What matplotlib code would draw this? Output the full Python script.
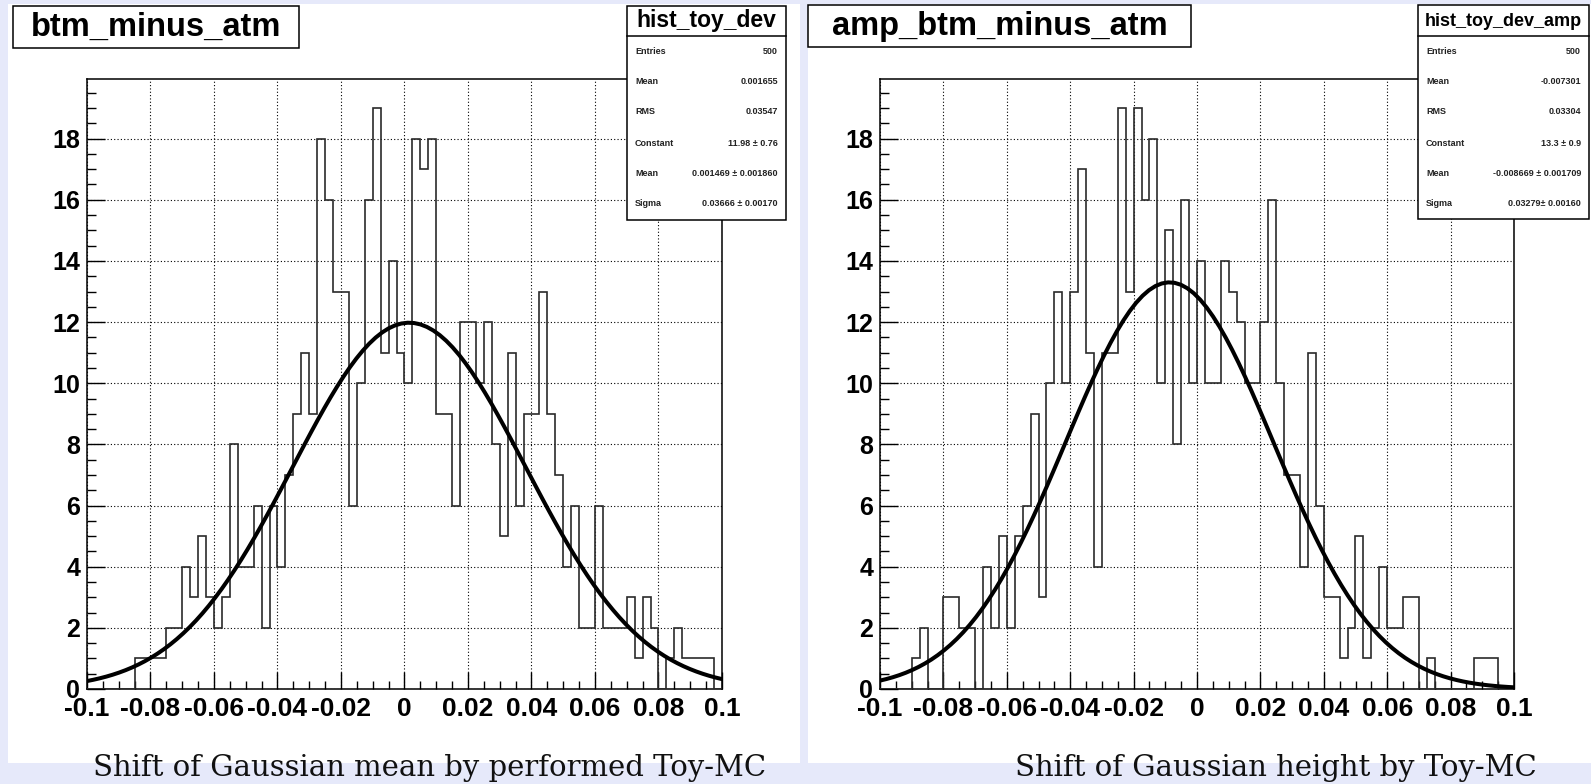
import numpy as np
import matplotlib
matplotlib.use('Agg')
import matplotlib.pyplot as plt
from matplotlib.patches import Rectangle

# histogram binning (80 bins between -0.1 and 0.1)
x_lo, x_hi, n_bins = -0.1, 0.1, 80

# bin contents
counts_mean = [0, 0, 0, 0, 0, 0, 1, 1, 1, 1,
               2, 2, 4, 3, 5, 3, 2, 3, 8, 4,
               4, 6, 2, 6, 4, 7, 9, 11, 9, 18,
               16, 13, 13, 6, 10, 16, 19, 11, 14, 11,
               10, 18, 17, 18, 9, 9, 6, 12, 12, 10,
               12, 8, 5, 11, 6, 9, 9, 13, 9, 7,
               4, 6, 2, 2, 6, 2, 2, 2, 3, 1,
               3, 2, 0, 1, 2, 1, 1, 1, 1, 0]
counts_amp = [0, 0, 0, 0, 1, 2, 0, 0, 3, 3,
              2, 2, 0, 4, 2, 5, 2, 5, 6, 9,
              3, 10, 13, 10, 13, 17, 11, 4, 11, 11,
              19, 13, 19, 16, 18, 10, 15, 8, 16, 10,
              14, 10, 10, 14, 13, 12, 10, 10, 12, 16,
              10, 7, 7, 4, 11, 6, 3, 3, 1, 2,
              5, 1, 2, 4, 2, 2, 3, 3, 0, 1,
              0, 0, 0, 0, 0, 1, 1, 1, 0, 0]

# gaussian fit parameters (constant, mean, sigma)
fit_mean = (11.98, 0.001469, 0.03666)
fit_amp = (13.3, -0.008669, 0.03279)

titles = ["btm_minus_atm", "amp_btm_minus_atm"]
box_titles = ["hist_toy_dev", "hist_toy_dev_amp"]
stat_names = ["Entries", "Mean", "RMS", "Constant", "Mean", "Sigma"]
stats_mean = ["500", "0.001655", "0.03547", "11.98 \u00b1 0.76",
              "0.001469 \u00b1 0.001860", "0.03666 \u00b1 0.00170"]
stats_amp = ["500", "-0.007301", "0.03304", "13.3 \u00b1 0.9",
             "-0.008669 \u00b1 0.001709", "0.03279\u00b1 0.00160"]
captions = ["Shift of Gaussian mean by performed Toy-MC",
            "Shift of Gaussian height by Toy-MC"]

xticks = [-0.1, -0.08, -0.06, -0.04, -0.02, 0, 0.02, 0.04, 0.06, 0.08, 0.1]
xtick_labels = ["-0.1", "-0.08", "-0.06", "-0.04", "-0.02", "0",
                "0.02", "0.04", "0.06", "0.08", "0.1"]
yticks = [0, 2, 4, 6, 8, 10, 12, 14, 16, 18]

W, H = 1591, 784
BG = '#e6e9fa'
SANS = ['Liberation Sans', 'DejaVu Sans']

fig = plt.figure(figsize=(W / 100, H / 100), dpi=100, facecolor=BG)


def fx(x):
    return x / W


def fy(y):
    return 1 - y / H


def rect(x0, y0, x1, y1, **kw):
    fig.patches.append(Rectangle((fx(x0), fy(y1)), fx(x1) - fx(x0), fy(y0) - fy(y1),
                                 transform=fig.transFigure, **kw))


def panel(pad, axbox, counts, fit, title, tbox, box_title, tsize, sbox, stats, caption, cap_x):
    # white pad behind everything
    rect(pad[0], 4, pad[1], 763, facecolor='white', edgecolor='none', zorder=-1)

    ax_x0, ax_x1, ax_top, ax_bot = axbox
    ax = fig.add_axes([fx(ax_x0), fy(ax_bot), fx(ax_x1) - fx(ax_x0), fy(ax_top) - fy(ax_bot)])
    ax.set_zorder(1)
    edges = np.linspace(x_lo, x_hi, n_bins + 1)
    ax.stairs(counts, edges, color='#2a2a2a', lw=1.2, baseline=0, zorder=3)

    c, m, s = fit
    xs = np.linspace(x_lo, x_hi, 100)
    ax.plot(xs, c * np.exp(-0.5 * ((xs - m) / s) ** 2), color='black', lw=2.9,
            solid_capstyle='round', zorder=4)

    ax.set_xlim(x_lo, x_hi)
    ax.set_ylim(0, 19.95)
    ax.set_xticks(xticks)
    ax.set_xticklabels(xtick_labels)
    ax.set_yticks(yticks)
    ax.set_yticklabels([str(v) for v in yticks])
    ax.set_xticks(np.arange(-0.1, 0.1001, 0.005), minor=True)
    ax.set_yticks(np.arange(0, 19.9, 0.5), minor=True)
    ax.tick_params(which='both', direction='in', top=False, right=False, width=1.0)
    ax.tick_params(axis='x', which='major', length=12, pad=6)
    ax.tick_params(axis='x', which='minor', length=6)
    ax.tick_params(axis='y', which='major', length=13, pad=5)
    ax.tick_params(axis='y', which='minor', length=6.5)
    for lab in ax.get_xticklabels():
        lab.set_family(SANS)
        lab.set_fontweight('bold')
        lab.set_fontsize(19)
    for lab in ax.get_yticklabels():
        lab.set_family(SANS)
        lab.set_fontweight('bold')
        lab.set_fontsize(18)
    ax.grid(True, which='major', color='black', ls=(0, (1, 2)), lw=0.8)
    for sp in ax.spines.values():
        sp.set_linewidth(1.1)

    # title box
    bx0, by0, bx1, by1 = tbox
    rect(bx0, by0, bx1, by1, facecolor='white', edgecolor='black', lw=1.1, zorder=5)
    fig.text(fx((bx0 + bx1) / 2), fy((by0 + by1) / 2), title, ha='center', va='center',
             family=SANS, fontweight='bold', fontsize=23.5, zorder=6)

    # statistics box
    sx0, sy0, sx1, sy1 = sbox
    rect(sx0, sy0, sx1, sy1, facecolor='white', edgecolor='black', lw=1.1, zorder=5)
    fig.lines.append(plt.Line2D([fx(sx0), fx(sx1)], [fy(36), fy(36)], color='black', lw=1.1,
                                transform=fig.transFigure, zorder=6))
    fig.text(fx((sx0 + sx1) / 2), fy(21), box_title, ha='center', va='center',
             family=SANS, fontweight='bold', fontsize=tsize, zorder=6)
    rows = [52, 82, 112, 143, 173, 204]
    for yy, name, val in zip(rows, stat_names, stats):
        fig.text(fx(sx0 + 8), fy(yy), name, ha='left', va='center', family=SANS,
                 fontweight='bold', fontsize=6.5, color='#222222', zorder=6)
        fig.text(fx(sx1 - 8), fy(yy), val, ha='right', va='center', family=SANS,
                 fontweight='bold', fontsize=6.5, color='#222222', zorder=6)

    fig.text(fx(cap_x), fy(768), caption, ha='left', va='center',
             family=['DejaVu Serif'], fontsize=21, color='#111111')


panel((8, 800), (87, 722, 79, 689), counts_mean, fit_mean, titles[0], (13, 6, 299, 48),
      box_titles[0], 16.5, (627, 6, 786, 220), stats_mean, captions[0], 93)
panel((808, 1591), (880, 1514, 79, 689), counts_amp, fit_amp, titles[1], (808, 5, 1191, 47),
      box_titles[1], 13, (1418, 5, 1589, 219), stats_amp, captions[1], 1015)

fig.savefig('out.png', dpi=100, facecolor=BG)
